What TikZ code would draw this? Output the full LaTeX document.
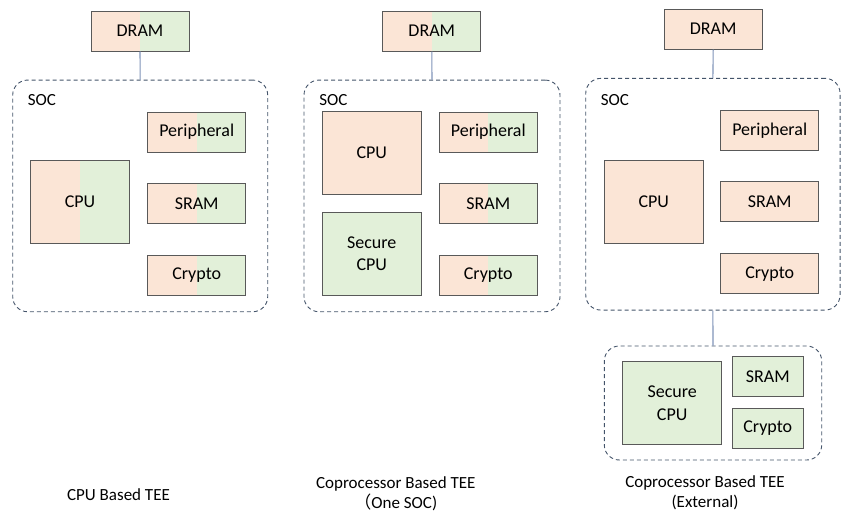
\documentclass[tikz,border=0pt]{standalone}
\usepackage{fontspec}
\setmainfont{Carlito}
\newfontfamily\cjk{Noto Sans CJK SC}
\usepackage{tikz}
\usetikzlibrary{positioning}

\definecolor{pinkfill}{HTML}{FBE5D6}
\definecolor{greenfill}{HTML}{E2F0D9}
\definecolor{boxline}{HTML}{595959}
\definecolor{socline}{HTML}{44546A}
\definecolor{linkline}{HTML}{7F93B8}

\tikzset{
  unit/.style={draw=boxline, line width=1pt, rectangle, inner sep=0pt, align=center, font=\fontsize{18}{22.5}\selectfont},
  small/.style={unit, minimum width=98pt, minimum height=40pt},
  big/.style={unit, minimum width=98.5pt, minimum height=82.5pt},
  pink/.style={fill=pinkfill},
  green/.style={fill=greenfill},
  half/.style={path picture={
      \fill[pinkfill] (path picture bounding box.south west) rectangle (path picture bounding box.north);
      \fill[greenfill] (path picture bounding box.south) rectangle (path picture bounding box.north east);}},
  soc/.style={draw=socline, line width=0.9pt, dash pattern=on 4pt off 3pt, rounded corners=15pt, rectangle, inner sep=0pt},
  link/.style={draw=linkline, line width=1.1pt},
}

\begin{document}
\begin{tikzpicture}[x=1pt, y=-1pt]

  \fontsize{17}{20}\selectfont

  \useasboundingbox (0,0) rectangle (852,525);

  %% CPU Based TEE
  \node[soc, minimum width=255pt, minimum height=231.7pt] (soc1) at (140.2,195.9) {};
  \node[anchor=west] (soclabel1) at (22,100) {SOC};
  \node[small, half] (dram1) at (140,31) {DRAM};
  \node[small, half] (peri1) at (196.7,132) {Peripheral};
  \node[big, half] (cpu1) at (80,202) {CPU};
  \node[small, half] (sram1) at (196.7,203.3) {SRAM};
  \node[small, half] (crypto1) at (196.7,275.3) {Crypto};
  \draw[link] (dram1.south) -- (soc1.north);
  \node (title1) at (118.5,495) {CPU Based TEE};

  %% Coprocessor Based TEE (One SOC)
  \node[soc, minimum width=256pt, minimum height=231.7pt] (soc2) at (432,195.9) {};
  \node[anchor=west] (soclabel2) at (313.5,100) {SOC};
  \node[small, half] (dram2) at (431.8,31) {DRAM};
  \node[big, pink] (cpu2) at (371.8,153) {CPU};
  \node[big, green] (scpu2) at (371.8,253.8) {Secure\\CPU};
  \node[small, half] (peri2) at (488.3,132) {Peripheral};
  \node[small, half] (sram2) at (488.3,203.3) {SRAM};
  \node[small, half] (crypto2) at (488.3,275.3) {Crypto};
  \draw[link] (dram2.south) -- (soc2.north);
  \node[align=center] (title2) at (395.8,494) {Coprocessor Based TEE\\{\cjk （}One SOC)};

  %% Coprocessor Based TEE (External)
  \node[soc, minimum width=254.3pt, minimum height=231.7pt] (soc3) at (712.9,194.2) {};
  \node[anchor=west] (soclabel3) at (595,100) {SOC};
  \node[small, pink] (dram3) at (713.2,29.2) {DRAM};
  \node[small, pink] (peri3) at (769.7,130.3) {Peripheral};
  \node[big, pink] (cpu3) at (653.8,202) {CPU};
  \node[small, pink] (sram3) at (769.7,201.7) {SRAM};
  \node[small, pink] (crypto3) at (769.7,273.7) {Crypto};
  \draw[link] (dram3.south) -- (soc3.north);

  \node[soc, minimum width=217.4pt, minimum height=114pt] (ext3) at (713,403) {};
  \node[big, green] (scpu3) at (672.2,403) {Secure\\CPU};
  \node[unit, green, minimum width=71pt, minimum height=40pt] (esram3) at (767.8,376.7) {SRAM};
  \node[unit, green, minimum width=71pt, minimum height=40pt] (ecrypto3) at (767.8,428.3) {Crypto};
  \draw[link] (soc3.south) -- (ext3.north);
  \node[align=center] (title3) at (705,493) {Coprocessor Based TEE\\(External)};

\end{tikzpicture}
\end{document}
